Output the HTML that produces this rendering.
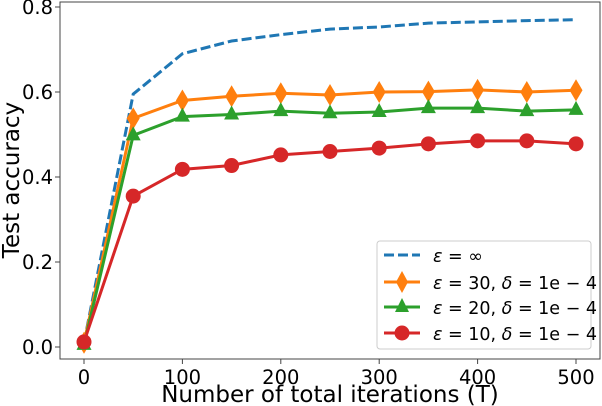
<!DOCTYPE html>
<html><head><meta charset="utf-8"><style>
html,body{margin:0;padding:0;background:#fff;}
svg{display:block;font-family:"DejaVu Sans","Liberation Sans",sans-serif;}
</style></head><body>
<svg id="chart" width="602" height="406" viewBox="0 0 602 406">
<rect x="60" y="2" width="540" height="357" fill="none" stroke="#444" stroke-width="1"/>
<g id="ticks"></g>
<g id="series"></g>
<text x="19" y="180" font-size="23" text-anchor="middle" transform="rotate(-90 19 180)">Test accuracy</text>
<text x="330" y="402" font-size="23" text-anchor="middle">Number of total iterations (T)</text>
<g>
<rect x="377" y="241" width="214" height="108" rx="3" fill="#fff" fill-opacity="0.8" stroke="#ccc"/>
<g><line x1="384" y1="255" x2="420" y2="255" stroke="#1f77b4" stroke-width="3" stroke-dasharray="10,4"/><text x="433" y="262" font-size="17.5" font-style="italic">ε <tspan font-style="normal">= ∞</tspan></text></g>
<g><line x1="384" y1="282" x2="420" y2="282" stroke="#ff7f0e" stroke-width="3"/><polygon points="402,271 408,282 402,293 396,282" fill="#ff7f0e"/><text x="433" y="289" font-size="17.5" font-style="italic">ε <tspan font-style="normal">= 30, </tspan>δ<tspan font-style="normal"> = 1e − 4</tspan></text></g>
<g><line x1="384" y1="307" x2="420" y2="307" stroke="#2ca02c" stroke-width="3"/><polygon points="402,298 409,312 395,312" fill="#2ca02c"/><text x="433" y="314" font-size="17.5" font-style="italic">ε <tspan font-style="normal">= 20, </tspan>δ<tspan font-style="normal"> = 1e − 4</tspan></text></g>
<g><line x1="384" y1="333" x2="420" y2="333" stroke="#d62728" stroke-width="3"/><circle cx="402" cy="333" r="7.5" fill="#d62728"/><text x="433" y="340" font-size="17.5" font-style="italic">ε <tspan font-style="normal">= 10, </tspan>δ<tspan font-style="normal"> = 1e − 4</tspan></text></g>
</g>
</svg>
<script>
const iterations=[0,50,100,150,200,250,300,350,400,450,500];
const accInf=[0.01,0.595,0.69,0.72,0.735,0.748,0.753,0.762,0.765,0.768,0.770];
const acc30=[0.01,0.538,0.58,0.59,0.597,0.593,0.6,0.601,0.605,0.6,0.604];
const acc20=[0.005,0.498,0.542,0.547,0.555,0.55,0.553,0.562,0.562,0.555,0.558];
const acc10=[0.012,0.355,0.418,0.427,0.452,0.46,0.468,0.478,0.485,0.485,0.478];
const xTicks=[0,100,200,300,400,500];
const yTicks=[0.0,0.2,0.4,0.6,0.8];
const NS="http://www.w3.org/2000/svg";
function xs(v){return 84+v*(492/500);}
function ys(v){return 347-v*(340/0.8);}
function mk(tag,attrs,parent){const e=document.createElementNS(NS,tag);for(const k in attrs)e.setAttribute(k,attrs[k]);parent.appendChild(e);return e;}
const tg=document.getElementById('ticks');
xTicks.forEach(t=>{
 const l=mk('line',{x1:xs(t),x2:xs(t),y1:359,y2:364,stroke:'#444'},tg);
 
 
 const tx=mk('text',{x:xs(t),y:384,'font-size':19.5,'text-anchor':'middle'},tg);
 tx.textContent=t;
 
 
});
yTicks.forEach(t=>{
 const l=mk('line',{x1:55,x2:60,y1:ys(t),y2:ys(t),stroke:'#444'},tg);
 
 
 const tx=mk('text',{x:53,y:ys(t)+7,'font-size':19.5,'text-anchor':'end'},tg);
 tx.textContent=t.toFixed(1);
 
 
});
const sg=document.getElementById('series');
function line(data,color,dash,name){
 const pts=data.map((v,i)=>xs(iterations[i])+','+ys(v)).join(' ');
 const p=mk('polyline',{points:pts,fill:'none',stroke:color,'stroke-width':3},sg);
 if(dash)p.setAttribute('stroke-dasharray',dash);
 
 
}
line(accInf,'#1f77b4','10,4','line-eps-inf');
line(acc30,'#ff7f0e',null,'line-eps30');
line(acc20,'#2ca02c',null,'line-eps20');
line(acc10,'#d62728',null,'line-eps10');
acc30.forEach((v,i)=>{const x=xs(iterations[i]),y=ys(v);
 const m=mk('polygon',{points:`${x},${y-11} ${x+6.5},${y} ${x},${y+11} ${x-6.5},${y}`,fill:'#ff7f0e'},sg);
 
 });
acc20.forEach((v,i)=>{const x=xs(iterations[i]),y=ys(v);
 const m=mk('polygon',{points:`${x},${y-9} ${x+7.5},${y+5} ${x-7.5},${y+5}`,fill:'#2ca02c'},sg);
 
 });
acc10.forEach((v,i)=>{
 const m=mk('circle',{cx:xs(iterations[i]),cy:ys(v),r:7.5,fill:'#d62728'},sg);
 
 });
</script>
</body></html>
